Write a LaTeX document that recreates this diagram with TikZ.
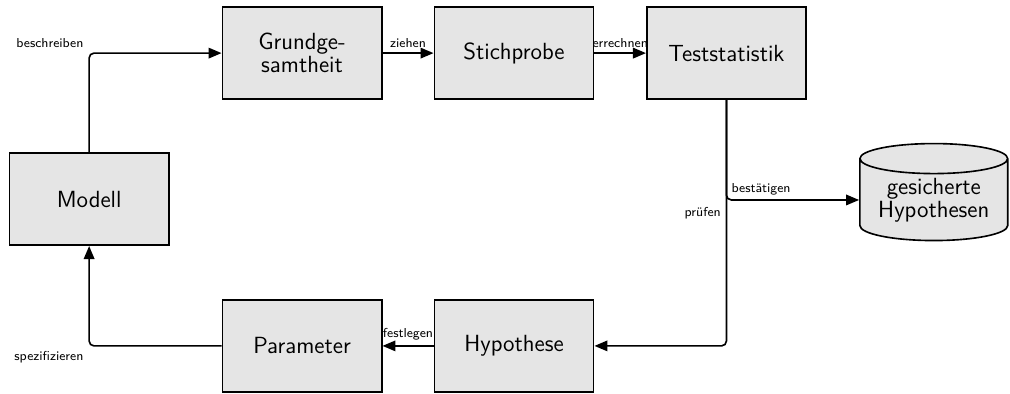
\documentclass[tikz,border=0pt]{standalone}
\usepackage{tikz}
\usetikzlibrary{shapes.geometric,arrows.meta}
\renewcommand{\familydefault}{\sfdefault}

\begin{document}
\begin{tikzpicture}
    % Define styles for boxes, store and arrows
    \tikzstyle{box} = [draw, line width=1pt, fill=gray!20, minimum width=3.45cm, minimum height=2cm, align=center, font=\fontsize{14.4}{12}\selectfont]
    \tikzstyle{store} = [draw, line width=1pt, fill=gray!20, cylinder, shape border rotate=90, aspect=0.27, minimum width=3.2cm, minimum height=2.1cm, align=center, font=\fontsize{14.4}{12}\selectfont, inner sep=0pt]
    \tikzstyle{flow} = [-{Triangle[length=8pt,width=6.5pt]}, line width=1pt, rounded corners=3pt]
    \tikzstyle{lbl} = [font=\footnotesize, inner sep=3pt]

    \useasboundingbox (0,0) rectangle (21.87,8.51);

    % Nodes
    \node[box] (modell) at (1.93, 4.20) {Modell};
    \node[box] (grund) at (6.54, 7.36) {Grundge-\\samtheit};
    \node[box] (stich) at (11.13, 7.36) {Stichprobe};
    \node[box] (test) at (15.73, 7.36) {Teststatistik};
    \node[box] (param) at (6.54, 1.02) {Parameter};
    \node[box] (hypo) at (11.13, 1.02) {Hypothese};
    \node[store] (gesichert) at (20.22, 4.18) {gesicherte\\Hypothesen};

    % Edges with arrows
    \draw[flow] (modell.north) |- node[lbl, above left] {beschreiben} (grund.west);
    \draw[flow] (grund) -- node[lbl, above] {ziehen} (stich);
    \draw[flow] (stich) -- node[lbl, above] {errechnen} (test);
    \draw[flow] (test.south) |- (gesichert.west);
    \draw[flow] (test.south) |- node[lbl, pos=0.23, left] {prüfen} (hypo.east);
    \draw[flow] (hypo) -- node[lbl, above] {festlegen} (param);
    \draw[flow] (param.west) -| node[lbl, below left] {spezifizieren} (modell.south);

    % Label of the branch to the store
    \node[lbl, above right] (bestaetigt) at (test.south |- gesichert.west) {bestätigen};
\end{tikzpicture}
\end{document}
